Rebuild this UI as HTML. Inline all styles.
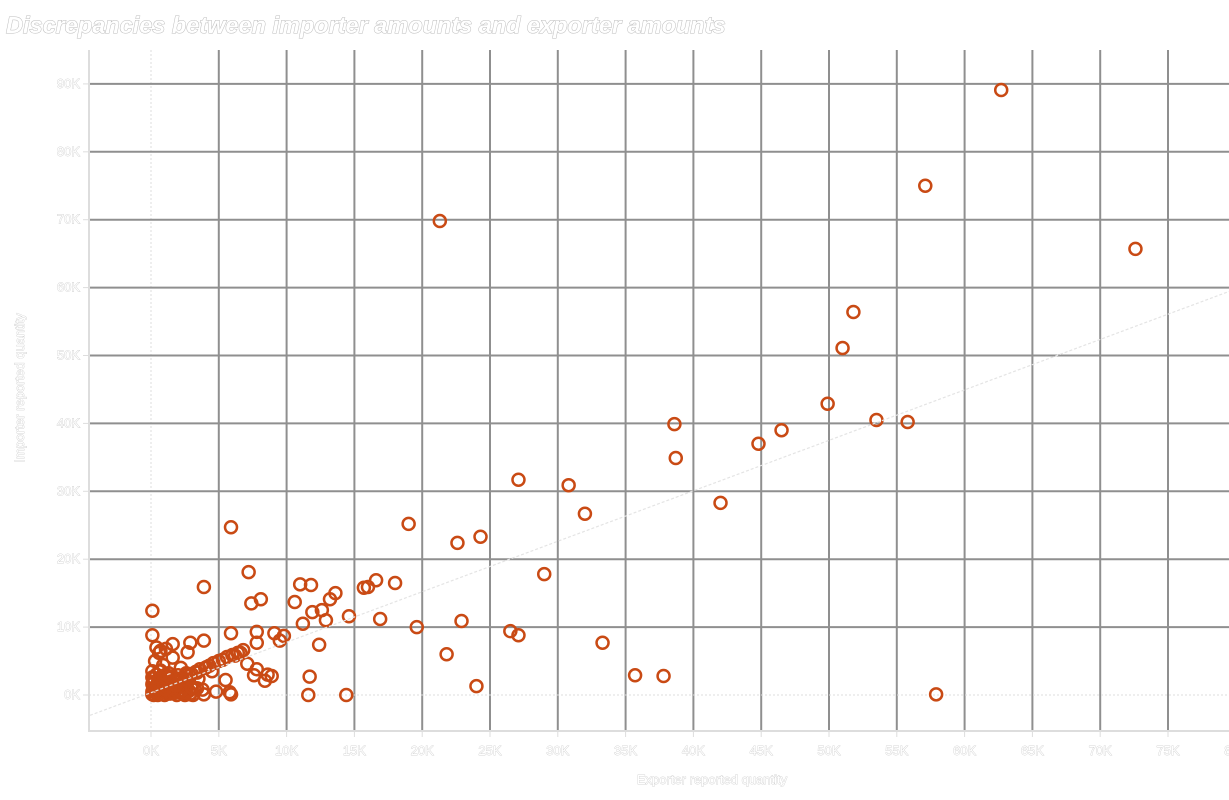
<!DOCTYPE html>
<html><head><meta charset="utf-8"><style>
html,body{margin:0;padding:0;background:#fff;width:1229px;height:800px;overflow:hidden}
svg{display:block}
.lbl{font-family:"Liberation Sans",sans-serif;fill:#fff;stroke:#c8c8c8;stroke-width:0.7px;paint-order:stroke}
</style></head><body>
<svg id="chart" width="1229" height="800" xmlns="http://www.w3.org/2000/svg">
<text class="lbl" x="6" y="33" font-size="23.5" font-weight="bold" font-style="italic" style="stroke:#bbb;stroke-width:1px">Discrepancies between importer amounts and exporter amounts</text>
<g id="grid"></g><g id="axes"></g><g id="marks"></g>
<text class="lbl" x="712" y="784" font-size="13" text-anchor="middle">Exporter reported quantity</text>
<text class="lbl" x="24" y="388" font-size="13" text-anchor="middle" transform="rotate(-90 24 388)">Importer reported quantity</text>
</svg>
<script>
const xTicks=[0,5,10,15,20,25,30,35,40,45,50,55,60,65,70,75,80];
const yTicks=[0,10,20,30,40,50,60,70,80,90];
const exporterK=[62.7,57.1,72.6,21.3,51.8,51.0,49.9,53.5,55.8,38.6,38.7,46.5,44.8,42.0,27.1,30.8,32.0,19.0,22.6,24.3,29.0,5.9,7.2,3.9,7.4,8.1,0.1,11.0,11.8,16.6,18.0,13.6,15.7,16.0,14.6,16.9,19.6,22.9,26.5,27.1,33.3,21.8,35.7,37.8,24.0,57.9,14.4,11.6,11.7,12.4,10.6,13.2,11.2,11.9,12.6,12.9,9.8,9.5,9.1,7.8,5.9,2.9,3.9,8.9,8.4,7.6,7.8,6.6,5.9,5.8,3.9,2.9,0.1,
0.1,0.3,0.5,0.8,1.0,1.2,1.5,1.8,2.0,2.3,2.6,3.0,3.3,3.6,4.0,4.3,4.6,5.0,5.3,5.6,6.0,6.4,6.8,0.2,0.4,0.7,1.1,1.4,1.7,2.1,2.4,2.8,3.2,0.3,0.6,0.9,1.3,1.6,2.2,2.7,3.5,0.2,0.5,1.0,1.9,2.5,3.1,0.8,1.2,0.4,0.7,1.5,2.0,0.6,0.9,1.1,1.6,2.9,3.4,4.1,4.8,5.5,6.2,7.1,7.8,8.6,3.8,4.5,
0.2,0.4,0.6,0.8,1.0,1.2,1.4,1.6,1.8,2.0,2.2,2.4,2.6,2.8,3.0,0.3,0.5,0.7,0.9,1.1,1.3,1.5,1.7,1.9,2.1,2.3,2.5,0.2,0.6,1.0,1.4,1.8,2.2,2.6,3.0,3.4,0.1,0.1,0.1,0.1];
const importerK=[89.1,75.0,65.7,69.8,56.4,51.1,42.9,40.5,40.2,39.9,34.9,39.0,37.0,28.3,31.7,30.9,26.7,25.2,22.4,23.3,17.8,24.7,18.1,15.9,13.5,14.1,12.4,16.3,16.2,16.9,16.5,15.0,15.8,15.9,11.6,11.2,10.0,10.9,9.4,8.8,7.7,6.0,2.9,2.8,1.3,0.1,0,0,2.7,7.4,13.7,14.1,10.5,12.2,12.5,11.0,8.7,8.0,9.1,9.3,9.1,7.7,8.0,2.8,2.1,2.9,7.7,6.2,0.1,0.4,0.1,0.1,8.8,
0.1,0.4,0.6,0.9,1.1,1.4,1.6,2.0,2.2,2.5,2.9,3.1,3.4,3.8,4.0,4.3,4.7,5.0,5.2,5.6,5.9,6.2,6.6,2.5,3.0,3.6,0.3,0.2,0.5,0.4,0.2,0.6,1.0,5.0,6.2,4.4,3.2,5.5,4.0,6.3,2.4,0.0,0.0,0.0,0.0,0.0,0.0,1.5,2.8,7.0,6.5,0.8,1.3,3.5,2.0,6.8,7.5,0.2,1.0,4.1,0.5,2.2,5.8,4.6,3.8,3.0,0.8,3.5,1.0,
1.0,1.5,2.0,1.2,0.6,2.5,1.8,0.8,2.9,1.6,0.4,3.2,2.2,1.0,0.5,1.8,2.6,1.2,3.0,0.9,2.0,0.3,1.5,2.4,0.7,1.1,1.9,1.7,0.9,2.7,1.4,0.6,2.3,1.1,3.3,0.5,1.6,2.6,3.5,4.6];
const trendX=[-4.5,80];
const trendY=[-3.0,59.8];
const x0=151,xs=13.56,y0=695,ys=6.79;
const X=v=>x0+v*xs, Y=v=>y0-v*ys;
const NS="http://www.w3.org/2000/svg";
function mk(t,a,p){const e=document.createElementNS(NS,t);for(const k in a)e.setAttribute(k,a[k]);p.appendChild(e);return e;}
const gridG=document.getElementById('grid'),axesG=document.getElementById('axes'),marksG=document.getElementById('marks');
const pLeft=89,pBottom=731,pTop=50,pRight=1229;
xTicks.forEach(t=>{
 const g=mk('line',{x1:X(t),x2:X(t),y1:pTop,y2:pBottom,stroke:t===0?'#ddd':'#8f8f8f','stroke-width':t===0?1:2,'stroke-dasharray':t===0?'2,2':'none'},gridG);
 
 
 const tk=mk('line',{x1:X(t),x2:X(t),y1:pBottom,y2:pBottom+6,stroke:'#ddd','stroke-width':1},axesG);
 
 
 const l=mk('text',{x:X(t),y:pBottom+24,'font-size':13,'text-anchor':'middle',class:'lbl'},axesG);
 l.textContent=t+'K';
 
 
});
yTicks.forEach(t=>{
 const g=mk('line',{x1:pLeft,x2:pRight,y1:Y(t),y2:Y(t),stroke:t===0?'#ddd':'#8f8f8f','stroke-width':t===0?1:2,'stroke-dasharray':t===0?'2,2':'none'},gridG);
 
 
 const tk=mk('line',{x1:pLeft-6,x2:pLeft,y1:Y(t),y2:Y(t),stroke:'#ddd','stroke-width':1},axesG);
 
 
 const l=mk('text',{x:pLeft-9,y:Y(t)+4,'font-size':13,'text-anchor':'end',class:'lbl'},axesG);
 l.textContent=t+'K';
 
 
});
const ax=mk('path',{d:`M${pLeft},${pTop} V${pBottom} H${pRight}`,fill:'none',stroke:'#ddd','stroke-width':2},axesG);


exporterK.forEach((v,i)=>{
 const c=mk('circle',{cx:X(v),cy:Y(importerK[i]),r:6,fill:'none',stroke:'#c94a14','stroke-width':2.5},marksG);
 
 
});
const tl=mk('line',{x1:X(trendX[0]),y1:Y(trendY[0]),x2:X(trendX[1]),y2:Y(trendY[1]),stroke:'#e4e4e4','stroke-width':1.2,'stroke-dasharray':'3,2'},marksG);


</script>
</body></html>
